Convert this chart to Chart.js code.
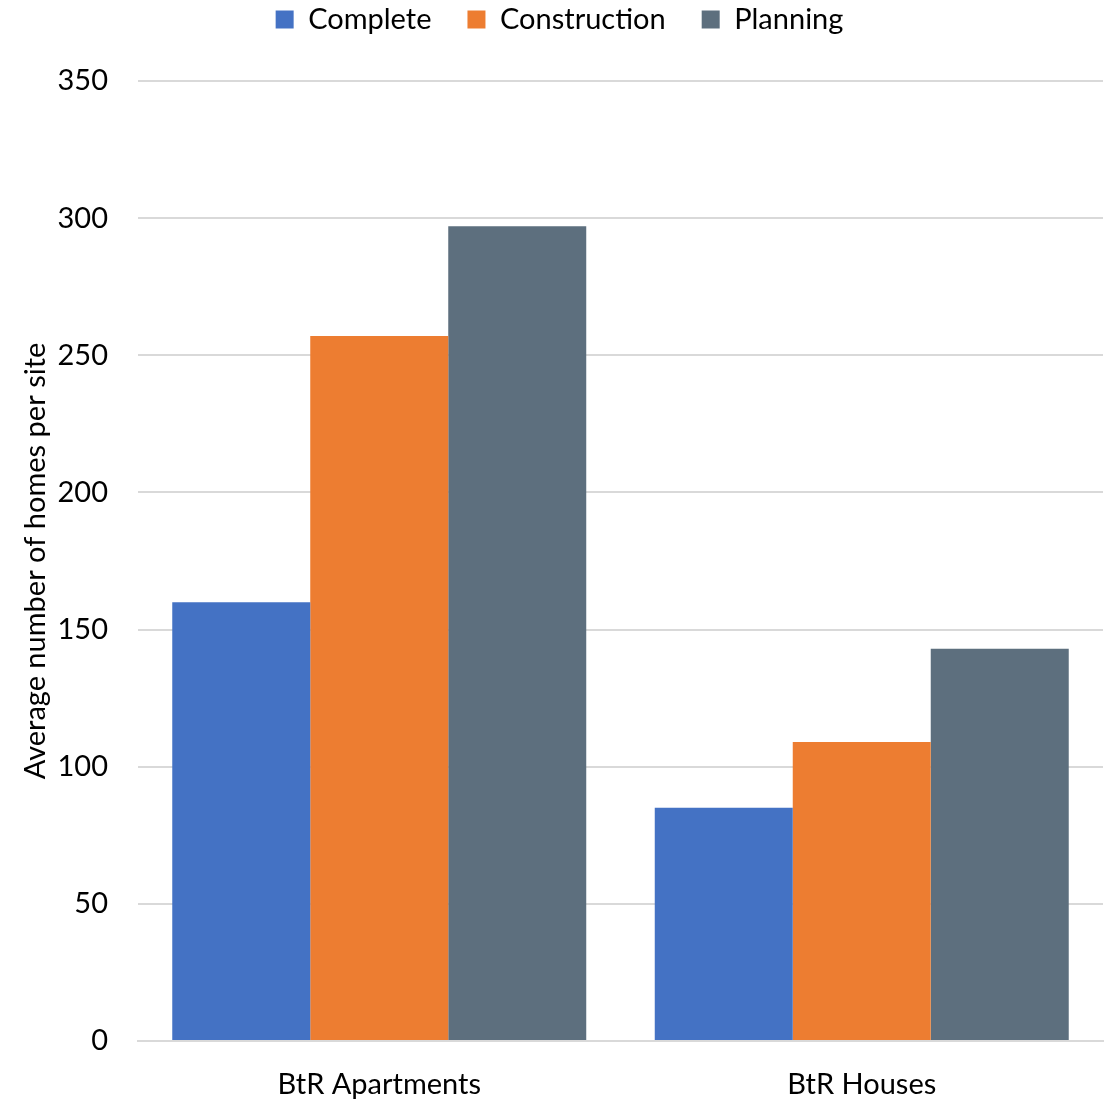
<!DOCTYPE html>
<html>
<head>
<meta charset="utf-8">
<script src="https://cdn.jsdelivr.net/npm/chart.js@4"></script>
<style>
  html, body { margin: 0; padding: 0; background: #fff; }
  #wrap { width: 1107px; height: 1100px; }
</style>
</head>
<body>
<div id="wrap"><canvas id="myChart" width="1107" height="1100"></canvas></div>
<script>
const categories = ["BtR Apartments", "BtR Houses"];
const seriesNames = ["Complete", "Construction", "Planning"];
const complete = [160, 85];
const construction = [257, 109];
const planning = [297, 143];
const seriesColors = ["#4472C4", "#ED7D31", "#5D6F7E"];

const fontFamily = "Lato, 'Open Sans', sans-serif";
const fontSize = 29;

// legend sits in a fixed band above the plot, shifted up by the negative top padding
const legendHeight = {
  id: "legendHeight",
  beforeInit(chart) {
    const origFit = chart.legend.fit;
    chart.legend.fit = function () {
      origFit.bind(chart.legend)();
      this.height = 112;
    };
  },
};

const chartData = {
  labels: categories,
  datasets: [complete, construction, planning].map((values, i) => ({
    label: seriesNames[i],
    data: values,
    backgroundColor: seriesColors[i],
    borderWidth: 0,
    barPercentage: 1,
    categoryPercentage: 0.858,
  })),
};

const config = {
  type: "bar",
  data: chartData,
  plugins: [legendHeight],
  options: {
    responsive: false,
    animation: false,
    layout: { padding: { left: 16, right: 4, top: -31, bottom: 0 } },
    plugins: {
      tooltip: { enabled: false },
      legend: {
        position: "top",
        labels: {
          color: "#000",
          font: { family: fontFamily, size: fontSize },
          boxWidth: 18,
          boxHeight: 18,
          padding: 36,
        },
      },
    },
    scales: {
      x: {
        grid: { display: false, drawTicks: false },
        border: { display: true, color: "#D9D9D9", width: 2 },
        ticks: {
          color: "#000",
          font: { family: fontFamily, size: fontSize },
          padding: 26,
        },
        afterFit(scale) {
          scale.height = 59;
        },
      },
      y: {
        min: 0,
        max: 350,
        ticks: {
          stepSize: 50,
          color: "#000",
          font: { family: fontFamily, size: fontSize },
          padding: 30,
        },
        grid: { color: "#D9D9D9", lineWidth: 2, drawTicks: false },
        border: { display: false },
        title: {
          display: true,
          text: "Average number of homes per site",
          color: "#000",
          font: { family: fontFamily, size: fontSize },
          padding: { top: 2, bottom: 4 },
        },
        afterFit(scale) {
          scale.width = 122;
        },
      },
    },
  },
};

const ctx = document.getElementById("myChart").getContext("2d");
const myChart = new Chart(ctx, config);
</script>
</body>
</html>
